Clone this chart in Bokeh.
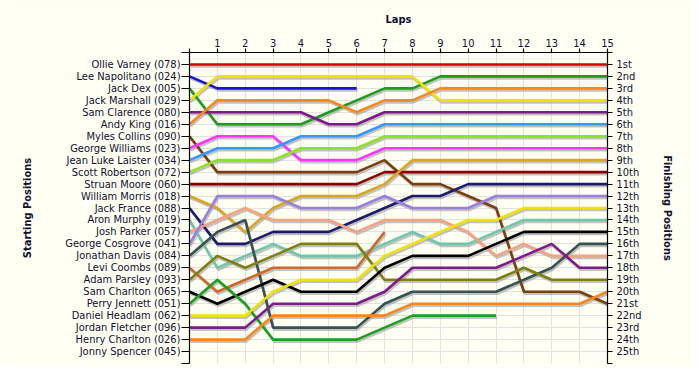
from bokeh.plotting import figure
from bokeh.models import Range1d, LinearAxis, FixedTicker
from bokeh.embed import file_html
from bokeh.resources import INLINE

# ---------------- data ----------------
laps = list(range(0, 16))
lap_labels = [""] + [str(i) for i in range(1, 16)]

drivers = [
    "Ollie Varney (078)", "Lee Napolitano (024)", "Jack Dex (005)", "Jack Marshall (029)",
    "Sam Clarence (080)", "Andy King (016)", "Myles Collins (090)", "George Williams (023)",
    "Jean Luke Laister (034)", "Scott Robertson (072)", "Struan Moore (060)",
    "William Morris (018)", "Jack France (088)", "Aron Murphy (019)", "Josh Parker (057)",
    "George Cosgrove (041)", "Jonathan Davis (084)", "Levi Coombs (089)",
    "Adam Parsley (093)", "Sam Charlton (065)", "Perry Jennett (051)",
    "Daniel Headlam (062)", "Jordan Fletcher (096)", "Henry Charlton (026)",
    "Jonny Spencer (045)",
]

finish_labels = ["1st", "2nd", "3rd", "4th", "5th", "6th", "7th", "8th", "9th", "10th",
                 "11th", "12th", "13th", "14th", "15th", "16th", "17th", "18th", "19th",
                 "20th", "21st", "22nd", "23rd", "24th", "25th"]

# positions per lap (lap 0 = starting position)
ollie_varney = [1, 1, 1, 1, 1, 1, 1, 1, 1, 1, 1, 1, 1, 1, 1, 1]
lee_napolitano = [2, 3, 3, 3, 3, 3, 3]
jack_dex = [3, 6, 6, 6, 6, 5, 4, 3, 3, 2, 2, 2, 2, 2, 2, 2]
jack_marshall = [4, 2, 2, 2, 2, 2, 2, 2, 2, 4, 4, 4, 4, 4, 4, 4]
sam_clarence = [5, 5, 5, 5, 5, 6, 6, 5, 5, 5, 5, 5, 5, 5, 5, 5]
andy_king = [6, 4, 4, 4, 4, 4, 5, 4, 4, 3, 3, 3, 3, 3, 3, 3]
myles_collins = [7, 10, 10, 10, 10, 10, 10, 9, 11, 11, 12, 13, 20, 20, 20, 21]
george_williams = [8, 7, 7, 7, 9, 9, 9, 8, 8, 8, 8, 8, 8, 8, 8, 8]
jean_luke_laister = [9, 8, 8, 8, 7, 7, 7, 6, 6, 6, 6, 6, 6, 6, 6, 6]
scott_robertson = [10, 9, 9, 9, 8, 8, 8, 7, 7, 7, 7, 7, 7, 7, 7, 7]
struan_moore = [11, 11, 11, 11, 11, 11, 11, 10, 10, 10, 10, 10, 10, 10, 10, 10]
william_morris = [12, 13, 15, 13, 12, 12, 12, 11, 9, 9, 9, 9, 9, 9, 9, 9]
jack_france = [13, 16, 16, 15, 15, 15, 14, 13, 12, 12, 11, 11, 11, 11, 11, 11]
aron_murphy = [14, 18, 17, 16, 17, 17, 17, 16, 15, 16, 16, 15, 14, 14, 14, 14]
josh_parker = [15, 14, 13, 14, 14, 14, 15, 14, 14, 14, 15, 17, 16, 17, 17, 17]
george_cosgrove = [16, 12, 12, 12, 13, 13, 13, 12, 13, 13, 13, 12, 12, 12, 12, 12]
jonathan_davis = [17, 15, 14, 23, 23, 23, 23, 21, 20, 20, 20, 20, 19, 18, 16, 16]
levi_coombs = [18, 20, 19, 18, 18, 18, 18, 15]
adam_parsley = [19, 17, 18, 17, 16, 16, 16, 19, 19, 19, 19, 19, 18, 19, 19, 19]
sam_charlton = [20, 21, 20, 19, 20, 20, 20, 18, 17, 17, 17, 16, 15, 15, 15, 15]
perry_jennett = [21, 19, 21, 24, 24, 24, 24, 23, 22, 22, 22, 22]
daniel_headlam = [22, 22, 22, 20, 19, 19, 19, 17, 16, 15, 14, 14, 13, 13, 13, 13]
jordan_fletcher = [23, 23, 23, 21, 21, 21, 21, 20, 18, 18, 18, 18, 17, 16, 18, 18]
henry_charlton = [24, 24, 24, 22, 22, 22, 22, 22, 21, 21, 21, 21, 21, 21, 21, 20]
jonny_spencer = []

positions = [
    ollie_varney, lee_napolitano, jack_dex, jack_marshall, sam_clarence, andy_king,
    myles_collins, george_williams, jean_luke_laister, scott_robertson, struan_moore,
    william_morris, jack_france, aron_murphy, josh_parker, george_cosgrove,
    jonathan_davis, levi_coombs, adam_parsley, sam_charlton, perry_jennett,
    daniel_headlam, jordan_fletcher, henry_charlton, jonny_spencer,
]

colors = [
    "#E00000", "#1414D2", "#1C9E1C", "#F2E200", "#7E1A8C", "#F7871C",
    "#7B3F0C", "#FF33FF", "#3399FF", "#88E424", "#8B0000",
    "#DAA520", "#1C1C6E", "#6CC8A8", "#F7A27E", "#9A7EE0",
    "#365252", "#D06828", "#7F7F10", "#000000", "#1CA01C",
    "#F2E200", "#7E1A8C", "#F7871C", "#888888",
]

# ---------------- figure ----------------
n_rows = len(drivers)
W, H = 692, 367
left, right, top, bottom = 189, 85, 52, 4
frame_w = W - left - right
frame_h = H - top - bottom

p = figure(width=W, height=H, output_backend="svg", toolbar_location=None,
           x_range=Range1d(0, 15), y_range=Range1d(n_rows + 1, 0),
           x_axis_location="above", y_axis_location="left",
           min_border_left=left, min_border_right=right,
           min_border_top=top, min_border_bottom=bottom)

bg = "#FFFFF4"
p.background_fill_color = bg
p.border_fill_color = bg
p.outline_line_color = None

font = "DejaVu Sans Condensed"
tick_color = "#000000"
text_color = "#101030"


def style_axis(ax, label, label_standoff, tick_out, major_standoff):
    ax.axis_label = label
    ax.axis_label_text_font = font
    ax.axis_label_text_font_style = "bold"
    ax.axis_label_text_font_size = "11px"
    ax.axis_label_text_color = text_color
    ax.axis_label_standoff = label_standoff
    ax.major_label_text_font = font
    ax.major_label_text_font_size = "11px"
    ax.major_label_text_color = text_color
    ax.major_label_standoff = major_standoff
    ax.major_tick_out = tick_out
    ax.major_tick_in = 0
    ax.minor_tick_out = 0
    ax.minor_tick_in = 0
    ax.axis_line_color = tick_color
    ax.major_tick_line_color = tick_color
    ax.axis_line_width = 1.2
    ax.major_tick_line_width = 1.2


# top axis (laps)
xa = p.xaxis[0]
xa.ticker = FixedTicker(ticks=laps)
xa.major_label_overrides = {i: lab for i, lab in zip(laps, lap_labels)}
style_axis(xa, "Laps", 10, 4, 2)

y_ticks = list(range(0, n_rows + 2))

ya = p.yaxis[0]
ya.ticker = FixedTicker(ticks=y_ticks)
ya.major_label_overrides = {t: (drivers[t - 1] if 1 <= t <= n_rows else "") for t in y_ticks}
style_axis(ya, "Starting Positions", 28, 8, 1)

ra = LinearAxis(ticker=FixedTicker(ticks=y_ticks))
ra.major_label_overrides = {t: (finish_labels[t - 1] if 1 <= t <= n_rows else "") for t in y_ticks}
style_axis(ra, "Finishing Positions", 16, 5, 4)
p.add_layout(ra, "right")

# grid
p.xgrid.ticker = FixedTicker(ticks=laps)
p.ygrid.ticker = FixedTicker(ticks=y_ticks)
p.xgrid.grid_line_color = "#E2E2E2"
p.ygrid.grid_line_color = "#E2E2E2"

# shadow offsets in data units (about 1px right, 2px down)
dx = 1.0 * 15 / frame_w
dy = 2.0 * (n_rows + 1) / frame_h

for pos, col in zip(positions, colors):
    if not pos:
        continue
    xs = laps[:len(pos)]
    p.line([x + dx for x in xs], [y + dy for y in pos], line_color="#A8A8A8",
           line_alpha=0.7, line_width=2.6)
for pos, col in zip(positions, colors):
    if not pos:
        continue
    xs = laps[:len(pos)]
    p.line(xs, pos, line_color=col, line_width=2.6)

open("out.html", "w").write(file_html(p, INLINE))
